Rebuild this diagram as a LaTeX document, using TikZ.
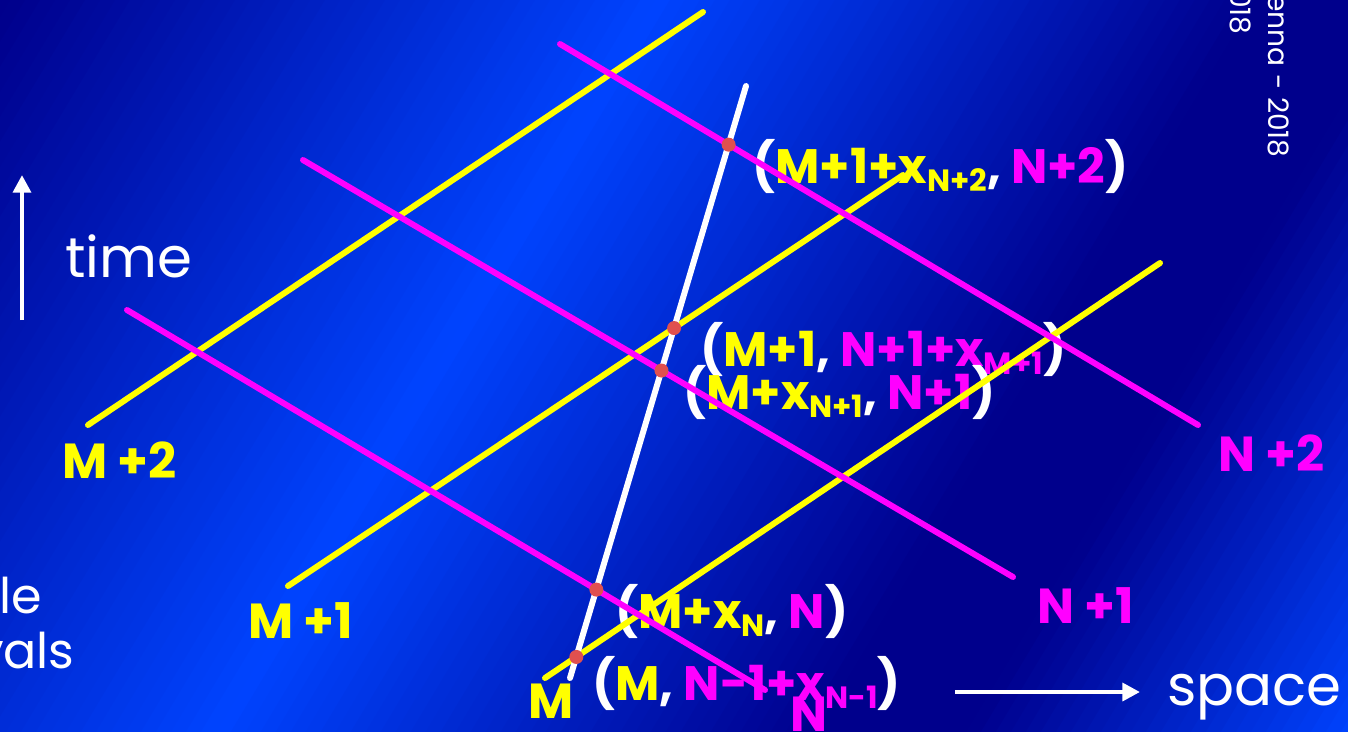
\documentclass[tikz,border=0pt]{standalone}
\usepackage{fontspec}
\setmainfont{Poppins}
\usetikzlibrary{arrows.meta}
\definecolor{slideDark}{HTML}{00008C}
\definecolor{slideBright}{HTML}{0044FF}
\definecolor{lineYellow}{HTML}{FFFF00}
\definecolor{lineMagenta}{HTML}{FF00FF}
\definecolor{dotRed}{HTML}{E0504F}
\newcommand{\idx}[1]{\raisebox{-5pt}{\fontsize{17.5}{18}\selectfont #1}}

\begin{document}
\begin{tikzpicture}[x=0.02cm, y=-0.02cm,
    mline/.style={draw=lineYellow, line width=3.4pt, line cap=round},
    nline/.style={draw=lineMagenta, line width=3.4pt, line cap=round},
    wline/.style={draw=white, line width=3.4pt, line cap=round},
    isect/.style={circle, fill=dotRed, inner sep=0pt, minimum size=0.28cm},
    coordlabel/.style={inner sep=0pt, anchor=base west, text=white,
                       font=\fontsize{27.5}{29}\selectfont\bfseries},
    tag/.style={inner sep=0pt, anchor=base west, font=\fontsize{28}{30}\selectfont\bfseries},
    word/.style={inner sep=0pt, text=white, font=\fontsize{32}{34}\selectfont},
    arrowline/.style={draw=white, line width=2.8pt, -{Triangle[length=10pt, width=10pt]}},
  ]
    \useasboundingbox (0,0) rectangle (1348,731);
    % background
    \begin{scope}
      \clip (0,0) rectangle (1348,731);
      \foreach \t in {-20,-5,...,1800} {
        \pgfmathtruncatemacro\p{min(100, max(0, \t<650 ? \t/6.5 :
          (\t<1250 ? (1250-\t)/6 : (\t<1400 ? 0 : (\t-1400)/3.87))))}
        \fill[slideBright!\p!slideDark] (\t+60,-100) -- (\t+77,-100)
          -- (\t-523,900) -- (\t-540,900) -- cycle;
      }
    \end{scope}

    % labels
    \node[coordlabel] (p5) at (752,183)
      {(\textcolor{lineYellow}{M+1+x\idx{N+2}}, \textcolor{lineMagenta}{N+2})};
    \node[coordlabel] (p4) at (700,366)
      {(\textcolor{lineYellow}{M+1}, \textcolor{lineMagenta}{N+1+x\idx{M+1}})};
    \node[coordlabel] (p3) at (683,409)
      {(\textcolor{lineYellow}{M+x\idx{N+1}}, \textcolor{lineMagenta}{N+1})};
    \node[coordlabel] (p2) at (615,628)
      {(\textcolor{lineYellow}{M+x\idx{N}}, \textcolor{lineMagenta}{N})};
    \node[coordlabel] (p1) at (592,700)
      {(\textcolor{lineYellow}{M}, \textcolor{lineMagenta}{N-1+x\idx{N-1}})};
    \node[tag, text=lineMagenta] (strayN) at (790,731) {N};
    \node[tag, text=lineYellow] (mlow) at (528,718) {M};

    \node[tag, text=lineYellow] (mtwo) at (62,478) {M +2};
    \node[tag, text=lineYellow] (mone) at (248,638) {M +1};
    \node[tag, text=lineMagenta] (ntwo) at (1218,471) {N +2};
    \node[tag, text=lineMagenta] (nonelab) at (1037,623) {N +1};

    \node[word, anchor=base west] (time) at (65,277) {time};
    \node[word, anchor=base west] (space) at (1167,705) {space};
    \node[word, anchor=base east, font=\fontsize{28}{30}\selectfont] (ble) at (42,613) {ble};
    \node[word, anchor=base east, font=\fontsize{28}{30}\selectfont] (vals) at (75,668) {vals};
    \node[word, anchor=base east, rotate=-90, font=\fontsize{16}{18}\selectfont]
      (year) at (1268,158) {enna - 2018};
    \node[word, anchor=base east, rotate=-90, font=\fontsize{16}{18}\selectfont]
      (yeartwo) at (1230,35) {018};

    % axes
    \coordinate (tbot) at (22,320);
    \coordinate (ttop) at (22,175);
    \coordinate (sleft) at (955,692);
    \coordinate (sright) at (1140,692);
    \draw[arrowline] (tbot) -- (ttop);
    \draw[arrowline] (sleft) -- (sright);

    % grid lines
    \coordinate (m2s) at (88,425);   \coordinate (m2e) at (703,12);
    \coordinate (m1s) at (288,586);  \coordinate (m1e) at (903,175);
    \coordinate (m0s) at (545,678);  \coordinate (m0e) at (1160,263);
    \coordinate (n2s) at (560,44);   \coordinate (n2e) at (1198,425);
    \coordinate (n1s) at (303,160);  \coordinate (n1e) at (1013,577);
    \coordinate (n0s) at (127,310);  \coordinate (n0e) at (765,690);
    \coordinate (ws) at (570,678);   \coordinate (we) at (746,86);
    \draw[mline] (m2s) -- (m2e);
    \draw[mline] (m1s) -- (m1e);
    \draw[mline] (m0s) -- (m0e);
    \draw[nline] (n2s) -- (n2e);
    \draw[nline] (n1s) -- (n1e);
    \draw[nline] (n0s) -- (n0e);
    \draw[wline] (ws) -- (we);

    % crossings on the world line
    \node[isect] (c0) at (intersection of ws--we and m0s--m0e) {};
    \node[isect] (c1) at (intersection of ws--we and n0s--n0e) {};
    \node[isect] (c2) at (intersection of ws--we and n1s--n1e) {};
    \node[isect] (c3) at (intersection of ws--we and m1s--m1e) {};
    \node[isect] (c4) at (intersection of ws--we and n2s--n2e) {};
  \end{tikzpicture}
\end{document}
